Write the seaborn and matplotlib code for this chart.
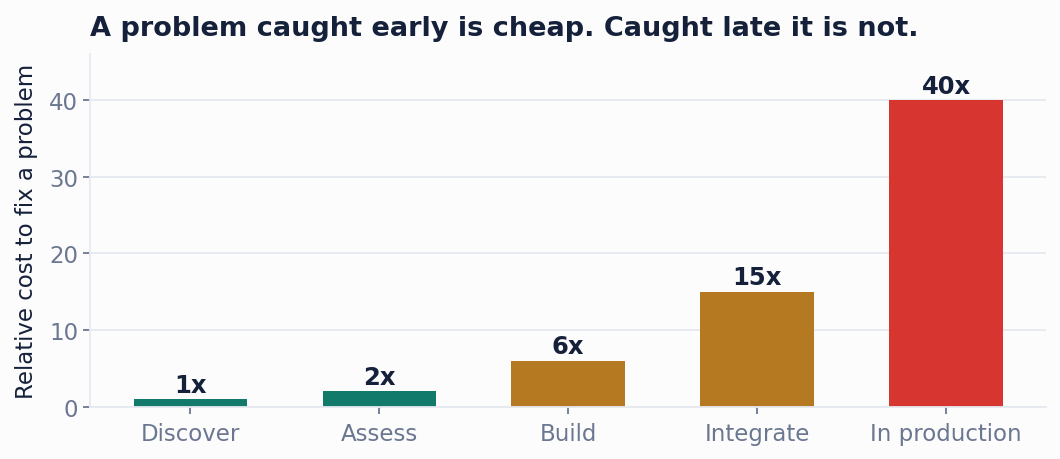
import pandas as pd
import matplotlib
matplotlib.use("Agg")
import matplotlib.pyplot as plt
import seaborn as sns

# Data
stages = ["Discover", "Assess", "Build", "Integrate", "In production"]
cost = [1, 2, 6, 15, 40]
labels = ["1x", "2x", "6x", "15x", "40x"]
colors = ["#127a6b", "#127a6b", "#b57a21", "#b57a21", "#d63530"]

df = pd.DataFrame({"stage": stages, "cost": cost})

sns.set_theme(style="white")
plt.rcParams["font.family"] = ["DejaVu Sans"]

bg = "#fcfcfc"
dark = "#15203a"
grey = "#6b7791"
light = "#e6e9f0"

fig, ax = plt.subplots(figsize=(10.6, 4.6), dpi=100)
fig.patch.set_facecolor(bg)
ax.set_facecolor(bg)

sns.barplot(data=df, x="stage", y="cost", hue="stage", palette=colors,
            width=0.6, legend=False, ax=ax, saturation=1, linewidth=0)

for i, (v, t) in enumerate(zip(cost, labels)):
    ax.text(i, v + 0.3, t, ha="center", va="bottom", fontsize=17.5,
            fontweight="bold", color=dark)

ax.set_ylim(0, 46)
ax.set_xlim(-0.53, 4.53)
ax.set_yticks([0, 10, 20, 30, 40])
ax.yaxis.grid(True, color=light, linewidth=1.3)
ax.set_axisbelow(True)

for s in ["top", "right"]:
    ax.spines[s].set_visible(False)
for s in ["left", "bottom"]:
    ax.spines[s].set_color(light)
    ax.spines[s].set_linewidth(1.3)

ax.tick_params(axis="both", colors=grey, labelsize=16.5, length=5, width=1.3,
               left=True, bottom=True)
ax.tick_params(axis="x", pad=6)
ax.set_xlabel("")
ax.set_ylabel("Relative cost to fix a problem", fontsize=16.5, color=dark,
              labelpad=8)

ax.set_title("A problem caught early is cheap. Caught late it is not.",
             loc="left", fontsize=19.5, fontweight="bold", color=dark, pad=14)

plt.subplots_adjust(left=0.085, right=0.987, top=0.88, bottom=0.114)
plt.savefig("out.png", dpi=100, facecolor=bg)
